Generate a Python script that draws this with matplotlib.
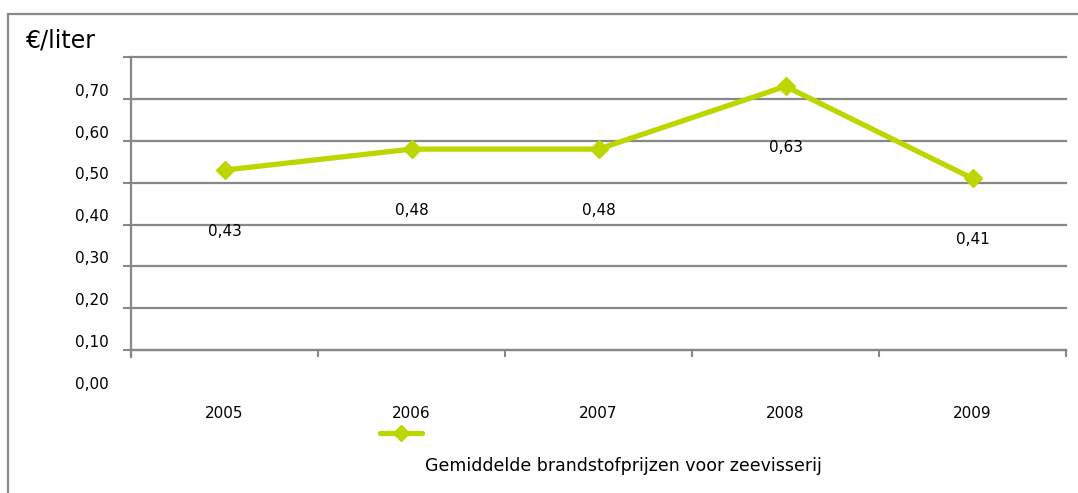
import matplotlib

matplotlib.use("Agg")
import matplotlib.pyplot as plt
from matplotlib.lines import Line2D
from matplotlib.patches import Rectangle

years = ["2005", "2006", "2007", "2008", "2009"]
prices = [0.43, 0.48, 0.48, 0.63, 0.41]
price_labels = ["0,43", "0,48", "0,48", "0,63", "0,41"]
grid_levels = [0.0, 0.1, 0.2, 0.3, 0.4, 0.5, 0.6, 0.7]
ytick_texts = ["0,00", "0,10", "0,20", "0,30", "0,40", "0,50", "0,60", "0,70"]
series_name = "Gemiddelde brandstofprijzen voor zeevisserij"

LIME = "#bed600"
GRAY = "#878787"

fig = plt.figure(figsize=(10.78, 4.93), dpi=100)
ax = fig.add_axes([131 / 1078, 101 / 493, 935 / 1078, 335 / 493])

x = list(range(len(years)))
ax.plot(x, prices, color=LIME, lw=3.8, marker="D", ms=9,
        markeredgecolor=LIME, solid_capstyle="butt", zorder=3)
for xi, v, lab in zip(x, prices, price_labels):
    ax.annotate(lab, (xi, v), xytext=(0, -44), textcoords="offset points",
                ha="center", va="center", fontsize=11)

ax.set_xlim(-0.5, len(years) - 0.5)
ax.set_ylim(-0.1, 0.7)

# gridlines + tick marks at the true levels, labels drawn one step lower (as in the source)
ax.set_yticks(grid_levels)
ax.set_yticklabels([])
ax.set_yticks([v - 0.078 for v in grid_levels], ytick_texts, minor=True)
ax.tick_params(axis="y", which="major", length=6, width=1.5, color=GRAY, direction="out")
ax.tick_params(axis="y", which="minor", length=0, pad=16, labelsize=11)
ax.yaxis.grid(True, which="major", color=GRAY, lw=1.6)
for gl in ax.yaxis.get_gridlines():
    gl.set_clip_on(False)

ax.set_xticks([i - 0.5 for i in range(len(years) + 1)])
ax.set_xticklabels([])
ax.set_xticks(x, years, minor=True)
ax.tick_params(axis="x", which="major", length=5, width=1.5, color=GRAY, direction="out")
ax.tick_params(axis="x", which="minor", length=0, pad=40, labelsize=11)

for s in ("top", "right"):
    ax.spines[s].set_visible(False)
ax.spines["bottom"].set_position(("data", 0))
ax.spines["bottom"].set_color(GRAY)
ax.spines["bottom"].set_linewidth(1.6)
ax.spines["left"].set_bounds(-0.017, 0.7)
ax.spines["left"].set_color(GRAY)
ax.spines["left"].set_linewidth(1.6)
ax.set_axisbelow(True)

fig.text(26 / 1078, 1 - 41 / 493, "€/liter", fontsize=17, va="center", ha="left")

# legend: handle above the text
ly = 1 - 433 / 493
fig.add_artist(Line2D([380 / 1078, 422 / 1078], [ly, ly], color=LIME, lw=3.8,
                      solid_capstyle="round"))
fig.add_artist(Line2D([401 / 1078], [ly], color=LIME, marker="D", ms=8,
                      markeredgecolor=LIME))
fig.text(623 / 1078, 1 - 466 / 493, series_name, fontsize=12.5, ha="center", va="center")

# outer chart border
fig.add_artist(Rectangle((8 / 1078, -0.05), 1.1, 1 - 14 / 493 + 0.05,
                         transform=fig.transFigure, fill=False, edgecolor=GRAY, lw=1.6))

fig.savefig("out.png", dpi=100)
